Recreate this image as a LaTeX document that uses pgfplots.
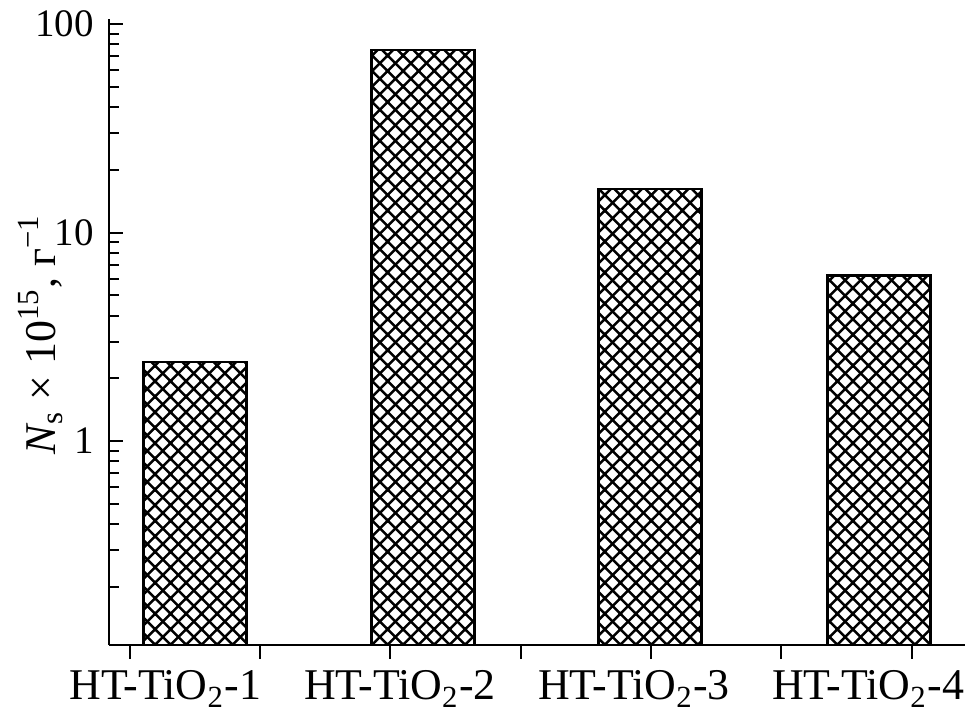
\documentclass[border=0pt]{standalone}
\usepackage{fontspec}
\setmainfont{Liberation Serif}
\usepackage{pgfplots}
\pgfplotsset{compat=1.18}
\usetikzlibrary{patterns.meta}
\tikzdeclarepattern{
  name=xhatch,
  type=uncolored,
  bottom left={(-0.6pt,-0.6pt)},
  top right={(5.3pt,5.3pt)},
  tile size={(4.7pt,4.7pt)},
  code={
    \draw[line width=0.75pt] (-0.4pt,-0.4pt) -- (5.1pt,5.1pt);
    \draw[line width=0.75pt] (-0.4pt,5.1pt) -- (5.1pt,-0.4pt);
  }
}
\begin{document}
\begin{tikzpicture}
\begin{axis}[
  name=ax,
  scale only axis,
  width=259.5pt, height=189.6pt,
  xmin=110, xmax=975,
  ymode=log, ymin=0.105, ymax=105.3,
  log origin=infty,
  axis lines*=left,
  axis line style={line width=0.65pt},
  every tick/.style={black, line width=0.6pt},
  xtick align=outside,
  ytick align=inside,
  major tick length=4.2pt,
  minor tick length=3pt,
  xtick={131,262.7,394.3,526,657.7,789.3,921},
  xticklabels={},
  extra x ticks={167,404,640.5,877},
  extra x tick labels={HT-TiO\textsubscript{2}-1,HT-TiO\textsubscript{2}-2,HT-TiO\textsubscript{2}-3,HT-TiO\textsubscript{2}-4},
  extra x tick style={major tick length=0pt, xticklabel style={font=\fontsize{13.3}{15}\selectfont, yshift=-4.3pt}},
  ytick={1,10,100},
  yticklabels={1,10,100},
  minor ytick={0.2,0.3,0.4,0.5,0.6,0.7,0.8,0.9,2,3,4,5,6,7,8,9,20,30,40,50,60,70,80,90},
  yticklabel style={font=\fontsize{11.8}{13}\selectfont, xshift=-1pt},
  /pgf/number format/assume math mode=true,
  every axis y label/.style={at={(rel axis cs:-0.08,0.497)}, rotate=90, anchor=center},
  ylabel={\fontsize{13.3}{15}\selectfont{\itshape N}\textsubscript{s} × 10\textsuperscript{15}, г\textsuperscript{−1}},
  clip=false,
]
\addplot[ybar, bar width=104, draw=black, line width=0.8pt, pattern=xhatch, pattern color=black]
  coordinates {(197,2.39) (427.5,75.3) (656.5,16.2) (888,6.23)};
\end{axis}
\path ([shift={(-33pt,-23.4pt)}]ax.south west) rectangle ([shift={(0pt,3.6pt)}]ax.north east);
\end{tikzpicture}
\end{document}
